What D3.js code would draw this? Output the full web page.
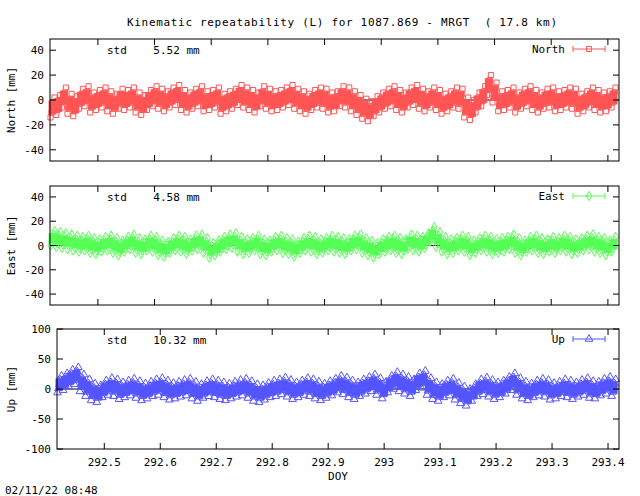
<!DOCTYPE html>
<html><head><meta charset="utf-8">
<script src="https://cdn.jsdelivr.net/npm/d3@7"></script>
<style>body{margin:0;background:#fff}text{font-family:"DejaVu Sans Mono",monospace;font-size:11px}</style>
</head><body>
<script>
// DOY samples every 0.01 day
var doy = d3.range(100).map(function(i){ return 292.42 + i*0.01; });

var north = [-6,-4,2,-3,-5,1,3,-2,0,2,-1,-3,1,0,2,-2,-4,0,3,1,-1,2,4,0,-2,1,3,-1,0,2,
  -3,-1,1,4,2,0,-2,3,1,-1,0,2,4,1,-1,-3,0,2,1,-2,-1,3,2,-1,-4,-7,-9,-5,-2,1,
  3,0,-2,2,4,1,-1,2,0,-3,-1,2,1,-6,-8,-2,3,12,6,-1,0,2,-2,1,3,0,-2,1,2,-1,
  0,2,1,-3,-1,2,0,-2,-1,2];
var east = [6,5,4,3,2,1,2,0,-1,1,2,0,-2,1,3,0,-1,2,1,-2,-3,0,2,1,-1,2,3,0,-4,-2,
  1,3,4,1,-1,0,2,-1,-2,1,2,0,-1,-3,0,2,1,-1,0,2,1,0,-1,2,3,0,-2,-4,-1,1,
  2,0,-1,3,2,1,4,9,5,1,-1,0,2,1,-2,0,2,1,-1,0,1,3,0,-2,1,2,0,-1,1,0,
  2,1,-1,0,2,3,1,0,-2,1];
var up = [8,12,18,22,10,2,-5,-8,0,4,2,-3,0,3,-1,-5,-2,2,4,0,-4,-2,1,3,-2,-6,-1,2,0,-3,
  -5,-2,1,3,-1,-6,-8,-4,0,2,5,1,-3,0,4,2,-2,-5,-1,3,8,5,0,-3,2,6,10,4,-2,8,
  14,10,6,2,12,16,4,-3,-6,0,3,-4,-10,-14,-6,2,5,1,-3,0,6,12,4,-2,-5,0,3,1,-4,-2,
  2,0,-3,1,4,-1,-2,3,6,2];

var xTicks = [292.5,292.6,292.7,292.8,292.9,293,293.1,293.2,293.3,293.4];
var xTickLabels = ["292.5","292.6","292.7","292.8","292.9","293","293.1","293.2","293.3","293.4"];

var panels = [
  {name:"North", lab:"North [mm]", vals:north, err:8, std:"5.52", color:"#ff5555", mark:"square",
   left:50, top:39, bottom:161, dom:[-49,49], ticks:[-40,-20,0,20,40]},
  {name:"East", lab:"East [mm]", vals:east, err:6, std:"4.58", color:"#55ff55", mark:"diamond",
   left:50, top:186, bottom:305, dom:[-49,49], ticks:[-40,-20,0,20,40]},
  {name:"Up", lab:"Up [mm]", vals:up, err:14, std:"10.32", color:"#5555ff", mark:"triangle",
   left:57, top:329, bottom:449, dom:[-100,100], ticks:[-100,-50,0,50,100]}
];

var svg = d3.select("body").append("svg").attr("width",640).attr("height",496);

svg.append("text").attr("x",127).attr("y",26).attr("textLength",430)
  .attr("xml:space","preserve")
  .text("Kinematic repeatability (L) for 1087.869 - MRGT  ( 17.8 km)");

var right = 619;
var sym = {square:d3.symbolSquare, diamond:d3.symbolDiamond, triangle:d3.symbolTriangle};

panels.forEach(function(p){
  var x = d3.scaleLinear().domain([292.4155,293.4196]).range([p.left,right]);
  var y = d3.scaleLinear().domain(p.dom).range([p.bottom,p.top]);
  var g = svg.append("g");
  var shape = d3.symbol().type(sym[p.mark]).size(26);

  // zero axis
  g.append("line").attr("x1",p.left).attr("x2",right).attr("y1",y(0)).attr("y2",y(0))
    .attr("stroke","#000");

  var pts = g.selectAll(".pt").data(p.vals).enter().append("g");
  pts.append("line").attr("x1",function(d,i){return x(doy[i]);}).attr("x2",function(d,i){return x(doy[i]);})
    .attr("y1",function(d){return y(d-p.err*0.7);}).attr("y2",function(d){return y(d+p.err*0.7);})
    .attr("stroke",p.color).attr("stroke-width",8);
  [-1,-0.5,0,0.5,1].forEach(function(k){
    pts.append("path").attr("d",shape)
      .attr("transform",function(d,i){return "translate("+(x(doy[i])+k*2)+","+y(d+k*p.err)+")";})
      .attr("fill","none").attr("stroke",p.color);
  });

  // frame and ticks
  g.append("rect").attr("x",p.left).attr("y",p.top).attr("width",right-p.left).attr("height",p.bottom-p.top)
    .attr("fill","none").attr("stroke","#000");
  p.ticks.forEach(function(t){
    g.append("line").attr("x1",p.left).attr("x2",p.left+6).attr("y1",y(t)).attr("y2",y(t)).attr("stroke","#000");
    g.append("line").attr("x1",right-6).attr("x2",right).attr("y1",y(t)).attr("y2",y(t)).attr("stroke","#000");
    g.append("text").attr("x",p.left-6).attr("y",y(t)+4).attr("text-anchor","end").text(t);
  });
  xTicks.forEach(function(t,i){
    g.append("line").attr("x1",x(t)).attr("x2",x(t)).attr("y1",p.bottom).attr("y2",p.bottom-6).attr("stroke","#000");
    g.append("line").attr("x1",x(t)).attr("x2",x(t)).attr("y1",p.top).attr("y2",p.top+6).attr("stroke","#000");
    if (p.name==="Up") g.append("text").attr("x",x(t)).attr("y",p.bottom+17).attr("text-anchor","middle").text(xTickLabels[i]);
  });

  var cy = (p.top+p.bottom)/2;
  g.append("text").attr("transform","translate(15,"+cy+") rotate(-90)").attr("text-anchor","middle").text(p.lab);
  g.append("text").attr("x",107).attr("y",p.top+15).attr("xml:space","preserve").text("std    "+p.std+" mm");

  // legend
  var ly = p.top+10;
  g.append("text").attr("x",565).attr("y",ly+4).attr("text-anchor","end").text(p.name);
  g.append("line").attr("x1",573).attr("x2",605).attr("y1",ly).attr("y2",ly).attr("stroke",p.color);
  [573,605].forEach(function(cx){
    g.append("line").attr("x1",cx).attr("x2",cx).attr("y1",ly-3).attr("y2",ly+3).attr("stroke",p.color);
  });
  g.append("path").attr("d",shape).attr("transform","translate(589,"+ly+")").attr("fill","none").attr("stroke",p.color);
});

svg.append("text").attr("x",338).attr("y",480).attr("text-anchor","middle").text("DOY");
svg.append("text").attr("x",5).attr("y",494).text("02/11/22 08:48");
</script>
</body></html>
